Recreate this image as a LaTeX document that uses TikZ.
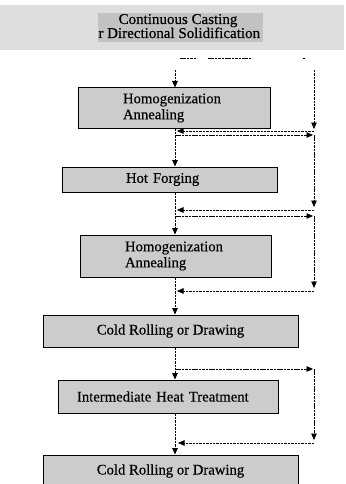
\documentclass[tikz,border=0pt]{standalone}
\usepackage{fontspec}
\setmainfont{Liberation Serif}
\newfontfamily\printface{Liberation Serif}[FakeBold=0.4]
\usetikzlibrary{arrows.meta}
\begin{document}
\begin{tikzpicture}[x=1pt,y=-1pt,
  stage/.style={draw=black, line width=1pt, fill=black!20, inner sep=0pt,
                font=\printface\fontsize{14.7}{16}\selectfont},
  srctext/.style={anchor=base, inner sep=0pt, font=\printface\fontsize{15}{16}\selectfont},
  link/.style={line width=0.85pt, dash pattern=on 2.5pt off 0.9pt},
  flow/.style={link, -{Triangle[length=6.5pt,width=5.5pt]}},
]
\clip (0,0) rectangle (345,484);

% source process banner
\fill[black!13] (0,5) rectangle (344,50);
\begin{scope}
  \clip (98,13.5) rectangle (263,42);
  \fill[black!24] (98,13.5) rectangle (263,42);
  \node[srctext] (src1) at (178,24) {Continuous Casting};
  \node[srctext] (src2) at (175.5,38) {or Directional Solidification};
\end{scope}

% process stages
\node[stage, minimum width=192pt, minimum height=40pt, text width=102pt, align=left]
  (hom1) at (174,108) {Homogenization\\Annealing};
\node[stage, minimum width=215pt, minimum height=25pt, text width=87pt, align=left]
  (forge) at (169.5,179.5) {Hot Forging};
\node[stage, minimum width=191pt, minimum height=42pt, text width=101pt, align=left]
  (hom2) at (175.5,256) {Homogenization\\Annealing};
\node[stage, minimum width=255pt, minimum height=32pt]
  (cold1) at (170.5,331) {Cold Rolling or Drawing};
\node[stage, minimum width=220pt, minimum height=33pt, text width=182pt, align=left]
  (inter) at (168,396.5) {Intermediate Heat Treatment};
\node[stage, minimum width=255pt, minimum height=32pt]
  (cold2) at (170.5,471) {Cold Rolling or Drawing};

% routing points
\coordinate (feed) at (175,70);
\coordinate (bypass) at (314,70);
\coordinate (by1) at (314,129);
\coordinate (ret1a) at (314,131);  \coordinate (ret1b) at (177,131);
\coordinate (out2) at (175,135);   \coordinate (turn2) at (313,135);
\coordinate (down2s) at (314,135); \coordinate (down2e) at (314,207);
\coordinate (ret2a) at (314,210);  \coordinate (ret2b) at (177,210);
\coordinate (out3) at (175,216);   \coordinate (turn3) at (313,216);
\coordinate (down3s) at (314,216); \coordinate (down3e) at (314,288);
\coordinate (ret3a) at (314,291);  \coordinate (ret3b) at (177,291);
\coordinate (out4) at (175,369);   \coordinate (turn4) at (313,369);
\coordinate (down4s) at (314,369); \coordinate (down4e) at (314,440);
\coordinate (ret4a) at (314,443);  \coordinate (ret4b) at (178,443);

% broken feed line below the banner
\draw[link] (180,58.5) -- (197,58.5);
\draw[link] (208,58.5) -- (252,58.5);
\draw[link] (303,58) -- (305,58);

% main sequence
\draw[flow] (feed) -- (feed |- hom1.north);
\draw[flow] (hom1.south -| feed) -- (forge.north -| feed);
\draw[flow] (forge.south -| feed) -- (hom2.north -| feed);
\draw[flow] (hom2.south -| feed) -- (cold1.north -| feed);
\draw[flow] (cold1.south -| feed) -- (inter.north -| feed);
\draw[flow] (inter.south -| feed) -- (cold2.north -| feed);

% optional bypass routes
\draw[flow] (bypass) -- (by1);
\draw[flow] (ret1a) -- (ret1b);
\draw[flow] (out2) -- (turn2);
\draw[flow] (down2s) -- (down2e);
\draw[flow] (ret2a) -- (ret2b);
\draw[flow] (out3) -- (turn3);
\draw[flow] (down3s) -- (down3e);
\draw[flow] (ret3a) -- (ret3b);
\draw[flow] (out4) -- (turn4);
\draw[flow] (down4s) -- (down4e);
\draw[flow] (ret4a) -- (ret4b);
\end{tikzpicture}
\end{document}
